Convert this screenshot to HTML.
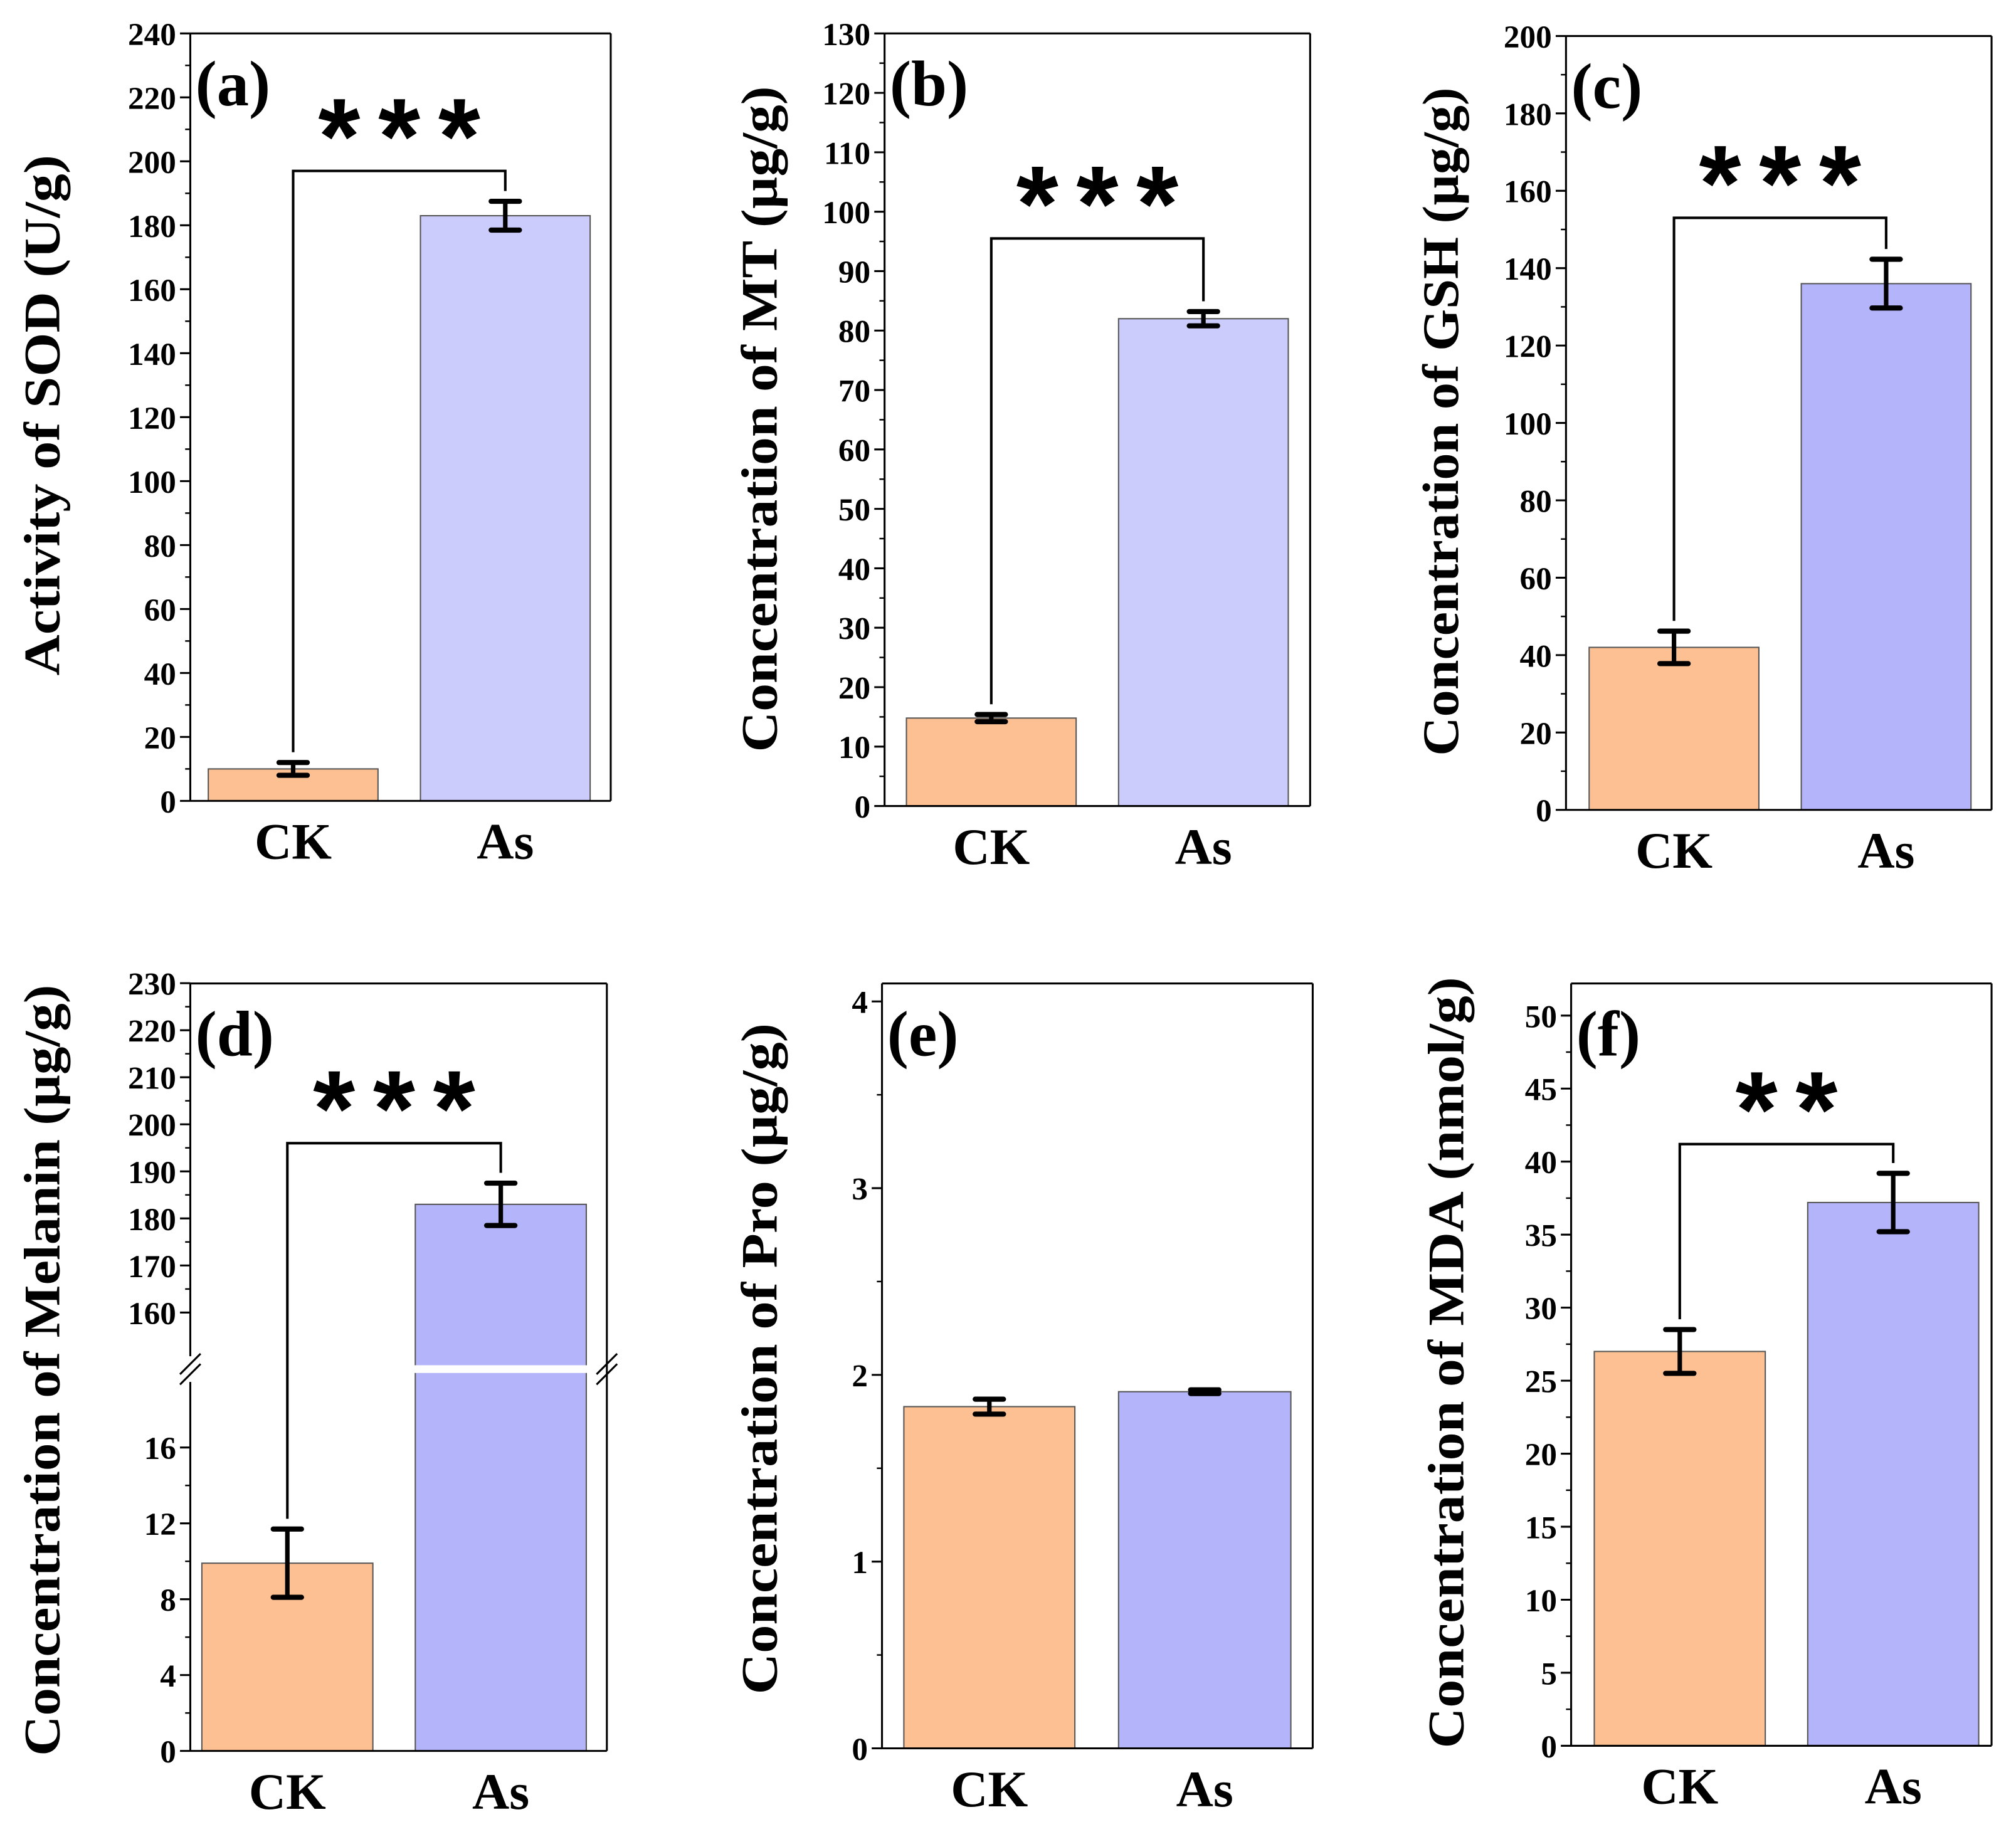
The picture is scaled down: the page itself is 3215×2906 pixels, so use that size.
<!DOCTYPE html>
<html><head><meta charset="utf-8"><style>html,body{margin:0;padding:0;background:#fff}svg{display:block}</style></head>
<body>
<svg id="fig" xmlns="http://www.w3.org/2000/svg" width="3215" height="2906" viewBox="0 0 1568 1417.3" font-family="'Liberation Serif', serif" font-weight="bold"></svg>
<script>
const categories = ["CK","As"];
const valsA = [10, 183], errA = [2, 4.5];
const valsB = [14.8, 82], errB = [0.6, 1.2];
const valsC = [42, 136], errC = [4.2, 6.3];
const valsD = [9.9, 183], errD = [1.8, 4.5];
const valsE = [1.83, 1.91], errE = [0.04, 0.01];
const valsF = [27, 37.2], errF = [1.5, 2.0];
const ticksA = [0,20,40,60,80,100,120,140,160,180,200,220,240];
const ticksB = [0,10,20,30,40,50,60,70,80,90,100,110,120,130];
const ticksC = [0,20,40,60,80,100,120,140,160,180,200];
const ticksDlow = [0,4,8,12,16];
const ticksDhigh = [160,170,180,190,200,210,220,230];
const ticksE = [0,1,2,3,4];
const ticksF = [0,5,10,15,20,25,30,35,40,45,50];
const NS="http://www.w3.org/2000/svg";
const svg=document.getElementById('fig');
function mk(tag,attrs,parent,name,text){const e=document.createElementNS(NS,tag);for(const k in attrs)e.setAttribute(k,attrs[k]);


if(text!==undefined)e.textContent=text;(parent||svg).appendChild(e);return e;}
function panel(o){
  const g=mk('g',{},svg,'panel-'+o.id);
  const {L,R,T,B}=o;
  const y=o.y;
  categories.forEach((c,i)=>{
    const x0=o.bars[i][0],x1=o.bars[i][1];
    const top=y(o.vals[i]);
    mk('rect',{x:x0,y:top,width:x1-x0,height:B-top,fill:o.colors[i],stroke:'#555','stroke-width':1},g,'bar-'+c.toLowerCase());
    const cx=(x0+x1)/2,yh=y(o.vals[i]+o.errs[i]),yl=y(o.vals[i]-o.errs[i]);
    mk('line',{x1:cx,x2:cx,y1:yh,y2:yl,stroke:'#000','stroke-width':3.5},g,'error-bar-'+c.toLowerCase());
    mk('line',{x1:cx-11,x2:cx+11,y1:yh,y2:yh,stroke:'#000','stroke-width':4,'stroke-linecap':'round'},g,'error-cap-top');
    mk('line',{x1:cx-11,x2:cx+11,y1:yl,y2:yl,stroke:'#000','stroke-width':4,'stroke-linecap':'round'},g,'error-cap-bottom');
    mk('text',{x:cx,y:B+45,'text-anchor':'middle','font-size':40},g,'x-label-'+c.toLowerCase(),c);
  });
  if(o.breakY){
    mk('rect',{x:o.bars[1][0]-1,y:o.breakY-3,width:o.bars[1][1]-o.bars[1][0]+2,height:6,fill:'#fff'},g,'axis-break-gap');
  }
  mk('line',{x1:L,x2:R,y1:T,y2:T,stroke:'#000','stroke-width':1.5},g,'frame-top');
  mk('line',{x1:R,x2:R,y1:T,y2:B,stroke:'#000','stroke-width':1.5},g,'frame-right');
  mk('line',{x1:L,x2:R,y1:B,y2:B,stroke:'#000','stroke-width':1.5},g,'x-axis');
  if(o.breakY){
    mk('line',{x1:L,x2:L,y1:T,y2:o.breakY-10,stroke:'#000','stroke-width':1.5},g,'y-axis-upper');
    mk('line',{x1:L,x2:L,y1:o.breakY+10,y2:B,stroke:'#000','stroke-width':1.5},g,'y-axis-lower');
    [[L,-4],[L,4],[R,-4],[R,4]].forEach(([xx,d])=>mk('line',{x1:xx-8,y1:o.breakY+d+8,x2:xx+8,y2:o.breakY+d-8,stroke:'#000','stroke-width':1.5},g,'break-mark'));
  } else {
    mk('line',{x1:L,x2:L,y1:T,y2:B,stroke:'#000','stroke-width':1.5},g,'y-axis');
  }
  o.tickSets.forEach(ts=>{
    ts.forEach((v,i)=>{
      const ty=y(v);
      mk('line',{x1:L-8,x2:L,y1:ty,y2:ty,stroke:'#000','stroke-width':1.5},g,'y-tick');
      mk('text',{x:L-11,y:ty+9,'text-anchor':'end','font-size':25},g,'y-tick-label',String(v));
      if(i<ts.length-1){const my=y((v+ts[i+1])/2);mk('line',{x1:L-4,x2:L,y1:my,y2:my,stroke:'#000','stroke-width':1.2},g,'y-minor-tick');}
    });
  });
  mk('text',{x:0,y:0,'text-anchor':'middle','font-size':40,transform:`translate(${o.tx},${o.ty}) rotate(-90)`,textLength:o.tl,lengthAdjust:'spacingAndGlyphs'},g,'y-axis-title',o.title);
  mk('text',{x:L+4,y:T+56,'font-size':50},g,'panel-label',o.letter);
  if(o.sig){
    const cx0=(o.bars[0][0]+o.bars[0][1])/2,cx1=(o.bars[1][0]+o.bars[1][1])/2;
    const by=y(o.sig.at);
    const y0=y(o.vals[0]+o.errs[0])-8,y1=y(o.vals[1]+o.errs[1])-8;
    mk('polyline',{points:`${cx0},${y0} ${cx0},${by} ${cx1},${by} ${cx1},${y1}`,fill:'none',stroke:'#000','stroke-width':2},g,'significance-bracket');
    mk('text',{x:(cx0+cx1)/2+7,y:by+2,'text-anchor':'middle','font-size':84,'letter-spacing':14,'font-family':"'Liberation Sans', sans-serif"},g,'significance-stars',o.sig.s);
  }
}
const lin=(v0,p0,v1,p1)=>v=>p0+(v-v0)*(p1-p0)/(v1-v0);
const peach='#fcc092', lil='#ccccfc', blu='#b4b4fa';
panel({id:'a',L:148,R:475,T:26,B:623,y:lin(0,623,240,26),vals:valsA,errs:errA,bars:[[162,294],[327,459]],colors:[peach,lil],tickSets:[ticksA],title:'Activity of SOD (U/g)',tx:46,ty:323,tl:405,letter:'(a)',sig:{at:197,s:'***'}});
panel({id:'b',L:688,R:1019,T:26,B:627,y:lin(0,627,130,26),vals:valsB,errs:errB,bars:[[705,837],[870,1002]],colors:[peach,lil],tickSets:[ticksB],title:'Concentration of MT (µg/g)',tx:604,ty:326,tl:518,letter:'(b)',sig:{at:95.5,s:'***'}});
panel({id:'c',L:1218,R:1549,T:28,B:630,y:lin(0,630,200,28),vals:valsC,errs:errC,bars:[[1236,1368],[1401,1533]],colors:[peach,blu],tickSets:[ticksC],title:'Concentration of GSH (µg/g)',tx:1134,ty:328,tl:520,letter:'(c)',sig:{at:153,s:'***'}});
const yD=v=>v<100?1362-v*14.75:1021-(v-160)*3.66;
panel({id:'d',L:148,R:472,T:765,B:1362,y:yD,breakY:1065,vals:valsD,errs:errD,bars:[[157,290],[323,456]],colors:[peach,blu],tickSets:[ticksDlow,ticksDhigh],title:'Concentration of Melanin (µg/g)',tx:46,ty:1066,tl:600,letter:'(d)',sig:{at:196,s:'***'}});
panel({id:'e',L:686,R:1021,T:765,B:1360,y:lin(0,1360,4,779),vals:valsE,errs:errE,bars:[[703,836],[870,1004]],colors:[peach,blu],tickSets:[ticksE],title:'Concentration of Pro (µg/g)',tx:604,ty:1057,tl:522,letter:'(e)'});
panel({id:'f',L:1222,R:1549,T:765,B:1358,y:lin(0,1358,50,790),vals:valsF,errs:errF,bars:[[1240,1373],[1406,1539]],colors:[peach,blu],tickSets:[ticksF],title:'Concentration of MDA (nmol/g)',tx:1138,ty:1060,tl:600,letter:'(f)',sig:{at:41.2,s:'**'}});
</script>
</body></html>
